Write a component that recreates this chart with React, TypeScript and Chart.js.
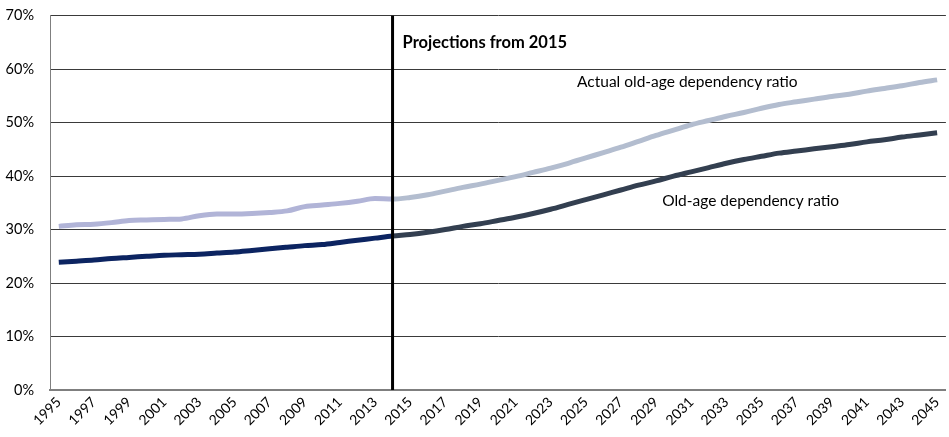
import { useEffect, useRef } from 'react';
import { Chart, registerables } from 'chart.js';

Chart.register(...registerables);

const years = [
  '1995', '1996', '1997', '1998', '1999', '2000', '2001', '2002', '2003', '2004',
  '2005', '2006', '2007', '2008', '2009', '2010', '2011', '2012', '2013', '2014',
  '2015', '2016', '2017', '2018', '2019', '2020', '2021', '2022', '2023', '2024',
  '2025', '2026', '2027', '2028', '2029', '2030', '2031', '2032', '2033', '2034',
  '2035', '2036', '2037', '2038', '2039', '2040', '2041', '2042', '2043', '2044',
  '2045',
];

const actualRatio = [
  30.6, 30.9, 31.0, 31.3, 31.7, 31.8, 31.9, 32.0, 32.6, 32.9,
  32.9, 33.0, 33.2, 33.5, 34.3, 34.6, 34.9, 35.3, 35.8, 35.7,
  36.0, 36.5, 37.2, 37.9, 38.5, 39.2, 39.9, 40.7, 41.5, 42.4,
  43.4, 44.4, 45.4, 46.5, 47.6, 48.6, 49.6, 50.4, 51.2, 51.9,
  52.7, 53.4, 53.9, 54.4, 54.9, 55.3, 55.9, 56.4, 56.9, 57.5,
  58.0,
];

const oldAgeRatio = [
  23.9, 24.1, 24.3, 24.6, 24.8, 25.0, 25.2, 25.3, 25.4, 25.6,
  25.8, 26.1, 26.4, 26.7, 27.0, 27.2, 27.6, 28.0, 28.4, 28.8,
  29.1, 29.5, 30.0, 30.6, 31.1, 31.7, 32.3, 33.0, 33.8, 34.7,
  35.6, 36.5, 37.4, 38.3, 39.1, 40.0, 40.8, 41.6, 42.4, 43.1,
  43.7, 44.3, 44.7, 45.1, 45.5, 45.9, 46.4, 46.8, 47.3, 47.7,
  48.1,
];

const projectionIndex = 19;
const projectionLabel = 'Projections from 2015';
const actualLabel = 'Actual old-age dependency ratio';
const oldAgeLabel = 'Old-age dependency ratio';

const FONT = 'Lato, "Open Sans", sans-serif';

const annotationPlugin = {
  id: 'annotations',
  afterDatasetsDraw(chart: any) {
    const { ctx, chartArea, scales } = chart;
    const x = scales.x;
    const y = scales.y;
    const px = x.getPixelForValue(projectionIndex);
    ctx.save();
    ctx.strokeStyle = '#000000';
    ctx.lineWidth = 3;
    ctx.beginPath();
    ctx.moveTo(px, chartArea.top);
    ctx.lineTo(px, chartArea.bottom);
    ctx.stroke();

    ctx.fillStyle = '#000000';
    ctx.textBaseline = 'middle';
    ctx.textAlign = 'left';
    ctx.font = `bold 16.5px ${FONT}`;
    ctx.fillText(projectionLabel, px + 10, y.getPixelForValue(65));
    ctx.font = `15.5px ${FONT}`;
    ctx.fillText(actualLabel, x.getPixelForValue(29.5), y.getPixelForValue(57.6));
    ctx.fillText(oldAgeLabel, x.getPixelForValue(34.35), y.getPixelForValue(35.4));
    ctx.restore();
  },
};

export default function App() {
  const canvasRef = useRef<HTMLCanvasElement | null>(null);

  useEffect(() => {
    document.body.style.margin = '0';
    const canvas = canvasRef.current;
    if (!canvas) return;
    const chart = new Chart(canvas, {
      type: 'line',
      data: {
        labels: years,
        datasets: [
          {
            label: actualLabel,
            data: actualRatio,
            borderWidth: 5,
            borderColor: '#b1b4d7',
            pointRadius: 0,
            cubicInterpolationMode: 'monotone',
            segment: {
              borderColor: (c: any) => (c.p0DataIndex >= projectionIndex ? '#b3bdcf' : '#b1b4d7'),
            },
          },
          {
            label: oldAgeLabel,
            data: oldAgeRatio,
            borderWidth: 5,
            borderColor: '#0c2461',
            pointRadius: 0,
            cubicInterpolationMode: 'monotone',
            segment: {
              borderColor: (c: any) => (c.p0DataIndex >= projectionIndex ? '#333f50' : '#0c2461'),
            },
          },
        ],
      },
      options: {
        animation: false,
        responsive: false,
        maintainAspectRatio: false,
        layout: { padding: { top: 0, right: 0, left: 0, bottom: 0 } },
        plugins: {
          legend: { display: false },
          tooltip: { enabled: false },
        },
        scales: {
          x: {
            offset: true,
            grid: { display: false, drawTicks: false },
            border: { display: true, color: '#7f7f7f', width: 2 },
            ticks: {
              autoSkip: false,
              minRotation: 45,
              maxRotation: 45,
              color: '#000000',
              padding: 4,
              font: { family: FONT, size: 14 },
              callback: (_v: any, i: number) => (i % 2 === 0 ? years[i] : ''),
            },
            afterFit: (s: any) => {
              s.height = 47;
            },
          },
          y: {
            min: 0,
            max: 70,
            grid: { color: '#3a3a3a', lineWidth: 1, drawTicks: false },
            border: { display: true, color: '#7f7f7f', width: 1 },
            ticks: {
              stepSize: 10,
              color: '#000000',
              padding: 16,
              font: { family: FONT, size: 14.5 },
              callback: (v: any) => `${v}%`,
            },
            afterFit: (s: any) => {
              s.width = 50;
            },
          },
        },
      },
      plugins: [annotationPlugin],
    });
    return () => chart.destroy();
  }, []);

  return (
    <div style={{ position: 'absolute', left: 0, top: 0, width: 949, height: 437, overflow: 'hidden' }}>
      <canvas
        ref={canvasRef}
        width={953}
        height={446}
        style={{ position: 'absolute', left: 0, top: -9, width: 953, height: 446 }}
      />
    </div>
  );
}
